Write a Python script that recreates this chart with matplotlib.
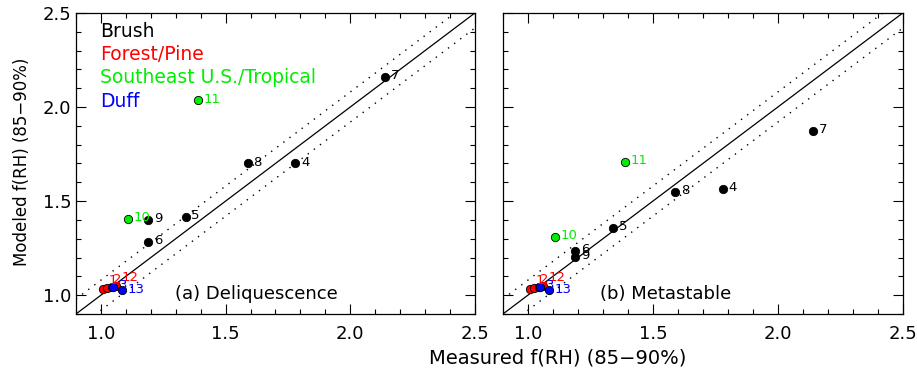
import matplotlib
matplotlib.use("Agg")
import matplotlib.pyplot as plt
from matplotlib.ticker import MultipleLocator

# measured f(RH) and modeled f(RH) for each burn, two model assumptions
labels   = ["4", "5", "6", "7", "8", "9", "10", "11", "1", "2", "", "12", "3", "13"]
groups   = ["Brush"] * 6 + ["SE"] * 2 + ["Forest"] * 4 + ["Duff"] * 2
measured = [1.78, 1.34, 1.19, 2.14, 1.59, 1.19, 1.11, 1.39, 1.01, 1.025, 1.045, 1.06, 1.05, 1.085]
model_deliq = [1.70, 1.415, 1.285, 2.16, 1.70, 1.40, 1.405, 2.035, 1.035, 1.04, 1.045, 1.05, 1.045, 1.025]
model_meta  = [1.565, 1.355, 1.235, 1.875, 1.55, 1.205, 1.31, 1.71, 1.035, 1.04, 1.045, 1.05, 1.045, 1.025]

colors = {"Brush": "black", "Forest": "red", "SE": "#00ee00", "Duff": "blue"}
legend_names = ["Brush", "Forest/Pine", "Southeast U.S./Tropical", "Duff"]
legend_cols = ["black", "red", "#00ee00", "blue"]

fig = plt.figure(figsize=(9.17, 3.76), dpi=100)
ax1 = fig.add_axes([0.0829, 0.165, 0.435, 0.8005])
ax2 = fig.add_axes([0.5485, 0.165, 0.436, 0.8005])

line = [0.9, 2.5]
for ax, yvals, title, tx in [(ax1, model_deliq, "(a) Deliquescence", 0.248),
                             (ax2, model_meta, "(b) Metastable", 0.243)]:
    ax.plot(line, line, color="black", lw=0.9)
    ax.plot(line, [v + 0.08 for v in line], color="black", lw=1, ls=(0, (1, 4.5)))
    ax.plot(line, [v - 0.08 for v in line], color="black", lw=1, ls=(0, (1, 4.5)))
    for x, y, g, lab in zip(measured, yvals, groups, labels):
        c = colors[g]
        ax.plot(x, y, "o", ms=6, mfc=c, mec="black", mew=0.6, zorder=3)
        if lab:
            ax.annotate(lab, (x, y), xytext=(4, 1), textcoords="offset points",
                        color=c, fontsize=9.5, va="bottom" if g == "Forest" else "center",
                        zorder=4)
    ax.set_xlim(0.9, 2.5)
    ax.set_ylim(0.9, 2.5)
    ax.xaxis.set_major_locator(MultipleLocator(0.5))
    ax.xaxis.set_minor_locator(MultipleLocator(0.1))
    ax.yaxis.set_major_locator(MultipleLocator(0.5))
    ax.yaxis.set_minor_locator(MultipleLocator(0.1))
    ax.tick_params(which="both", direction="in", top=True, right=True, labelsize=13)
    ax.tick_params(which="major", length=7, width=0.8)
    ax.tick_params(which="minor", length=3.5, width=0.8)
    ax.tick_params(axis="x", pad=8)
    for sp in ax.spines.values():
        sp.set_linewidth(0.9)
    ax.text(tx, 0.065, title, transform=ax.transAxes, fontsize=13, va="center")

fmt = plt.FuncFormatter(lambda v, p: f"{v:.1f}")
ax1.xaxis.set_major_formatter(fmt)
ax2.xaxis.set_major_formatter(fmt)
ax1.yaxis.set_major_formatter(fmt)
ax2.set_yticklabels([])

for i, (name, c) in enumerate(zip(legend_names, legend_cols)):
    ax1.text(0.06, 0.94 - i * 0.078, name, color=c, fontsize=13.5,
             transform=ax1.transAxes, va="center")

fig.text(0.024, 0.57, "Modeled f(RH) (85\u221290%)", fontsize=12, rotation=90,
         ha="center", va="center")
fig.text(0.608, 0.048, "Measured f(RH) (85\u221290%)", fontsize=14, ha="center", va="center")

fig.savefig("out.png", dpi=100)
